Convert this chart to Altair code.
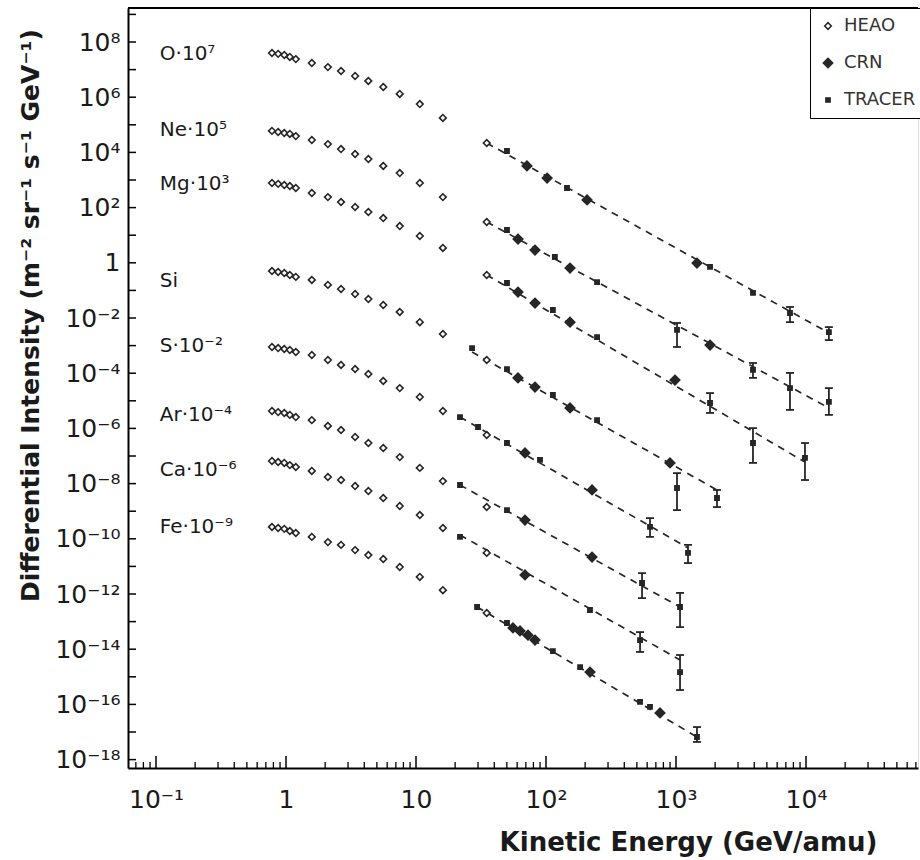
import altair as alt
import pandas as pd

# ---------------- data ----------------
ELEMENTS = ["O", "Ne", "Mg", "Si", "S", "Ar", "Ca", "Fe"]
ELEMENT_LABELS = ["O·10⁷", "Ne·10⁵", "Mg·10³", "Si", "S·10⁻²", "Ar·10⁻⁴", "Ca·10⁻⁶", "Fe·10⁻⁹"]
LABEL_LOG10_I = [7.565, 4.81, 2.855, -0.66, -3.01, -5.51, -7.51, -9.57]
LABEL_E = 0.107

# HEAO energies (GeV/amu), shared by all elements
HEAO_E = [0.78, 0.87, 0.97, 1.07, 1.19, 1.58, 2.1, 2.65, 3.4, 4.3, 5.6, 7.5, 10.7, 16.1, 35.0]
# log10 of the (scaled) differential intensity
HEAO_O = [7.60, 7.57, 7.53, 7.46, 7.38, 7.24, 7.09, 6.95, 6.77, 6.59, 6.37, 6.12, 5.75, 5.25, 4.34]
HEAO_NE = [4.78, 4.74, 4.70, 4.67, 4.59, 4.45, 4.30, 4.12, 3.94, 3.76, 3.51, 3.25, 2.89, 2.38, 1.48]
HEAO_MG = [2.89, 2.86, 2.82, 2.78, 2.71, 2.53, 2.38, 2.20, 2.02, 1.84, 1.62, 1.33, 0.97, 0.54, -0.44]
HEAO_SI = [-0.30, -0.33, -0.37, -0.44, -0.51, -0.62, -0.80, -0.95, -1.13, -1.31, -1.53, -1.78, -2.15, -2.58, -3.52]
HEAO_S = [-3.05, -3.09, -3.12, -3.16, -3.23, -3.34, -3.52, -3.70, -3.85, -4.03, -4.28, -4.54, -4.86, -5.37, -6.24]
HEAO_AR = [-5.37, -5.41, -5.44, -5.51, -5.59, -5.70, -5.91, -6.06, -6.31, -6.53, -6.71, -7.04, -7.43, -7.91, -8.85]
HEAO_CA = [-7.18, -7.22, -7.25, -7.33, -7.40, -7.54, -7.76, -7.87, -8.09, -8.27, -8.52, -8.81, -9.14, -9.61, -10.51]
HEAO_FE = [-9.57, -9.61, -9.64, -9.72, -9.79, -9.93, -10.12, -10.22, -10.41, -10.59, -10.73, -11.02, -11.38, -11.86, -12.69]

# CRN points: energies and log10 intensity
CRN_E_O = [71.4, 102, 207, 1450]
CRN_O = [3.51, 3.07, 2.28, -0.01]
CRN_E_NE = [60.9, 82.3, 153, 1827]
CRN_NE = [0.86, 0.46, -0.19, -2.98]
CRN_E_MG = [60.9, 82.3, 153, 982]
CRN_MG = [-1.06, -1.46, -2.15, -4.25]
CRN_E_SI = [60.9, 82.3, 153, 899]
CRN_SI = [-4.17, -4.50, -5.26, -7.25]
CRN_E_S = [68.9, 226]
CRN_S = [-6.89, -8.23]
CRN_E_AR = [68.9, 226]
CRN_AR = [-9.32, -10.66]
CRN_E_CA = [68.9]
CRN_CA = [-11.31]
CRN_E_FE = [55.7, 63.1, 72.7, 82.3, 218, 753]
CRN_FE = [-13.23, -13.34, -13.49, -13.67, -14.83, -16.31]

# TRACER points: energies, log10 intensity, error-bar low / high (None = no bar)
TR_E_O = [50.1, 145, 1827, 3910, 7530, 15000]
TR_O = [4.05, 2.71, -0.15, -1.09, -1.82, -2.51]
TR_LO_O = [None, None, None, None, -2.15, -2.80]
TR_HI_O = [None, None, None, None, -1.60, -2.33]
TR_E_NE = [50.1, 117, 247, 1018, 3910, 7530, 15000]
TR_NE = [1.19, 0.21, -0.70, -2.43, -3.88, -4.54, -5.04]
TR_LO_NE = [None, None, None, -3.05, -4.17, -5.33, -5.51]
TR_HI_NE = [None, None, None, -2.18, -3.63, -3.99, -4.54]
TR_E_MG = [50.1, 113, 247, 1827, 3910, 9820]
TR_MG = [-0.73, -1.71, -2.69, -5.08, -6.53, -7.07]
TR_LO_MG = [None, None, None, -5.44, -7.25, -7.87]
TR_HI_MG = [None, None, None, -4.72, -5.99, -6.53]
TR_E_SI = [27.0, 50.1, 113, 247, 1018, 2067]
TR_SI = [-3.09, -3.85, -4.79, -5.70, -8.16, -8.52]
TR_LO_SI = [None, None, None, None, -8.96, -8.85]
TR_HI_SI = [None, None, None, None, -7.62, -8.23]
TR_E_S = [21.8, 30.0, 50.1, 89.9, 631, 1237]
TR_S = [-5.59, -5.95, -6.53, -7.14, -9.57, -10.51]
TR_LO_S = [None, None, None, None, -9.93, -10.88]
TR_HI_S = [None, None, None, None, -9.25, -10.22]
TR_E_AR = [21.8, 50.1, 548, 1074]
TR_AR = [-8.05, -8.96, -11.60, -12.47]
TR_LO_AR = [None, None, -12.15, -13.20]
TR_HI_AR = [None, None, -11.24, -11.96]
TR_E_CA = [21.8, 218, 529, 1074]
TR_CA = [-9.93, -12.58, -13.67, -14.83]
TR_LO_CA = [None, None, -14.10, -15.48]
TR_HI_CA = [None, None, -13.38, -14.21]
TR_E_FE = [29.5, 50.1, 113, 183, 529, 631, 1450]
TR_FE = [-12.47, -13.05, -14.07, -14.65, -15.91, -16.09, -17.18]
TR_LO_FE = [None, None, None, None, None, None, -17.36]
TR_HI_FE = [None, None, None, None, None, None, -16.82]

# power-law fit lines (dashed): start / end energy and log10 intensity, per element
FIT_E0 = [35, 35, 35, 27.0, 21.8, 21.8, 21.8, 29.5]
FIT_L0 = [4.34, 1.48, -0.44, -3.23, -5.59, -8.05, -9.86, -12.47]
FIT_E1 = [15000, 15000, 9820, 2067, 1237, 1074, 1074, 1450]
FIT_L1 = [-2.54, -5.26, -7.22, -8.23, -10.33, -12.47, -14.39, -17.18]

EXPERIMENTS = ["HEAO", "CRN", "TRACER"]
X_LABEL_EXP = [-1, 0, 1, 2, 3, 4]
Y_LABEL_EXP = [8, 6, 4, 2, 0, -2, -4, -6, -8, -10, -12, -14, -16, -18]

# ---------------- build tables ----------------
heao = dict(zip(ELEMENTS, [HEAO_O, HEAO_NE, HEAO_MG, HEAO_SI, HEAO_S, HEAO_AR, HEAO_CA, HEAO_FE]))
crn = dict(zip(ELEMENTS, [(CRN_E_O, CRN_O), (CRN_E_NE, CRN_NE), (CRN_E_MG, CRN_MG), (CRN_E_SI, CRN_SI),
                          (CRN_E_S, CRN_S), (CRN_E_AR, CRN_AR), (CRN_E_CA, CRN_CA), (CRN_E_FE, CRN_FE)]))
tracer = dict(zip(ELEMENTS, [
    (TR_E_O, TR_O, TR_LO_O, TR_HI_O), (TR_E_NE, TR_NE, TR_LO_NE, TR_HI_NE),
    (TR_E_MG, TR_MG, TR_LO_MG, TR_HI_MG), (TR_E_SI, TR_SI, TR_LO_SI, TR_HI_SI),
    (TR_E_S, TR_S, TR_LO_S, TR_HI_S), (TR_E_AR, TR_AR, TR_LO_AR, TR_HI_AR),
    (TR_E_CA, TR_CA, TR_LO_CA, TR_HI_CA), (TR_E_FE, TR_FE, TR_LO_FE, TR_HI_FE)]))

pts, errs, caps, fits = [], [], [], []
for el in ELEMENTS:
    for e, l in zip(HEAO_E, heao[el]):
        pts.append({"E": e, "I": 10 ** l, "Experiment": "HEAO", "el": el})
    for e, l in zip(*crn[el]):
        pts.append({"E": e, "I": 10 ** l, "Experiment": "CRN", "el": el})
    for e, l, lo, hi in zip(*tracer[el]):
        pts.append({"E": e, "I": 10 ** l, "Experiment": "TRACER", "el": el})
        if lo is not None:
            errs.append({"E": e, "I": 10 ** lo, "I2": 10 ** hi})
            caps.append({"E": e, "I": 10 ** lo})
            caps.append({"E": e, "I": 10 ** hi})
for i, el in enumerate(ELEMENTS):
    fits.append({"E": FIT_E0[i], "I": 10 ** FIT_L0[i], "el": el, "o": 0})
    fits.append({"E": FIT_E1[i], "I": 10 ** FIT_L1[i], "el": el, "o": 1})

df_pts = pd.DataFrame(pts)
df_err = pd.DataFrame(errs)
df_caps = pd.DataFrame(caps)
df_fit = pd.DataFrame(fits)
df_lab = pd.DataFrame({"E": [LABEL_E] * len(ELEMENTS),
                       "I": [10 ** v for v in LABEL_LOG10_I],
                       "txt": ELEMENT_LABELS})

X_MIN, X_MAX = 0.0609, 72700.0
Y_MIN, Y_MAX = 10 ** -18.304, 10 ** 9.232

x_major = [10.0 ** d for d in range(-1, 5)]
x_minor = [k * 10.0 ** d for d in range(-2, 5) for k in range(2, 10)
           if X_MIN < k * 10.0 ** d < X_MAX]
y_ticks = [10.0 ** d for d in range(-18, 10)]
df_xmaj = pd.DataFrame({"E": x_major})
df_xmin = pd.DataFrame({"E": x_minor})
df_yt = pd.DataFrame({"I": y_ticks})

SUP = str.maketrans("-0123456789", "⁻⁰¹²³⁴⁵⁶⁷⁸⁹")


def dec_label(e):
    if e == 0:
        return "1"
    if e == 1:
        return "10"
    return "10" + str(e).translate(SUP)


def label_expr(exps):
    parts = [f"round(log(datum.value)/LN10) == {e} ? '{dec_label(e)}'" for e in exps]
    return " : ".join(parts) + " : ''"


FONT = "DejaVu Sans"
INK = "#1a1a1a"
MARK = "#262626"
W, H = 790, 760

xscale = alt.Scale(type="log", domain=[X_MIN, X_MAX], nice=False)
yscale = alt.Scale(type="log", domain=[Y_MIN, Y_MAX], nice=False)

xaxis = alt.Axis(values=[10.0 ** e for e in X_LABEL_EXP], labelExpr=label_expr(X_LABEL_EXP),
                 grid=False, ticks=False, tickSize=0, domain=True, domainColor="black", domainWidth=2,
                 labelFont=FONT, labelFontSize=25, labelColor=INK, labelPadding=19, labelFlush=False,
                 labelOverlap=False,
                 title="Kinetic Energy (GeV/amu)", titleFont=FONT, titleFontSize=26, titleFontWeight="bold",
                 titleColor=INK, titleX=560, titleY=82, titleAlign="center", titleBaseline="alphabetic")
yaxis = alt.Axis(values=[10.0 ** e for e in Y_LABEL_EXP], labelExpr=label_expr(Y_LABEL_EXP),
                 grid=False, ticks=False, tickSize=0, domain=True, domainColor="black", domainWidth=2,
                 labelFont=FONT, labelFontSize=25, labelColor=INK, labelPadding=8, labelFlush=False,
                 labelOverlap=False, labelBaseline="middle",
                 title="Differential Intensity (m⁻² sr⁻¹ s⁻¹ GeV⁻¹)", titleFont=FONT, titleFontSize=25,
                 titleFontWeight="bold", titleColor=INK, titleX=-98, titleY=307, titleAngle=270,
                 titleAlign="center", titleBaseline="middle")

X = alt.X("E:Q", scale=xscale, axis=xaxis)
Y = alt.Y("I:Q", scale=yscale, axis=yaxis)

leg = alt.Legend(title=None, orient="none", legendX=682, legendY=0, padding=9, rowPadding=19,
                 strokeColor="black", fillColor="white", labelFont=FONT, labelFontSize=18,
                 labelColor="#333", labelOffset=7, symbolStrokeWidth=1.5)

points = alt.Chart(df_pts).mark_point(filled=True, strokeWidth=1.6, opacity=1).encode(
    x=X, y=Y,
    shape=alt.Shape("Experiment:N", scale=alt.Scale(domain=EXPERIMENTS, range=["diamond", "diamond", "square"]), legend=leg),
    fill=alt.Fill("Experiment:N", scale=alt.Scale(domain=EXPERIMENTS, range=["white", MARK, MARK]), legend=leg),
    stroke=alt.Stroke("Experiment:N", scale=alt.Scale(domain=EXPERIMENTS, range=[MARK, MARK, MARK]), legend=leg),
    size=alt.Size("Experiment:N", scale=alt.Scale(type="ordinal", domain=EXPERIMENTS, range=[45, 90, 18]), legend=leg),
)

fit_lines = alt.Chart(df_fit).mark_line(color=MARK, strokeWidth=1.7, strokeDash=[7, 6]).encode(
    x=X, y=Y, detail="el:N", order="o:Q")

err_rules = alt.Chart(df_err).mark_rule(color=MARK, strokeWidth=1.8).encode(x=X, y=Y, y2="I2:Q")
err_caps = alt.Chart(df_caps).mark_tick(orient="horizontal", size=8, thickness=1.8, color=MARK,
                                        opacity=1).encode(x=X, y=Y)

labels = alt.Chart(df_lab).mark_text(align="left", baseline="middle", font=FONT, fontSize=20,
                                     color=INK).encode(x=X, y=Y, text="txt:N")

xt_major = alt.Chart(df_xmaj).mark_rule(color="black", strokeWidth=1.5).encode(
    x=X, y=alt.value(H), y2=alt.value(H - 12))
xt_minor = alt.Chart(df_xmin).mark_rule(color="black", strokeWidth=1.3).encode(
    x=X, y=alt.value(H), y2=alt.value(H - 6))
yt = alt.Chart(df_yt).mark_rule(color="black", strokeWidth=1.5).encode(
    y=Y, x=alt.value(0), x2=alt.value(8))
top_border = alt.Chart(pd.DataFrame({"a": [0]})).mark_rule(color="black", strokeWidth=2).encode(
    x=alt.value(0), x2=alt.value(W), y=alt.value(0))

chart = alt.layer(
    fit_lines, err_rules, err_caps, points, labels, xt_major, xt_minor, yt, top_border
).properties(
    width=W, height=H,
    padding={"left": 128, "top": 8, "right": 2, "bottom": 90},
    autosize=alt.AutoSizeParams(type="none"),
).configure_view(stroke=None).configure_legend(strokeWidth=2).configure(font=FONT, background="white")

chart.save("out.html", embed_options={"renderer": "svg", "actions": False})
